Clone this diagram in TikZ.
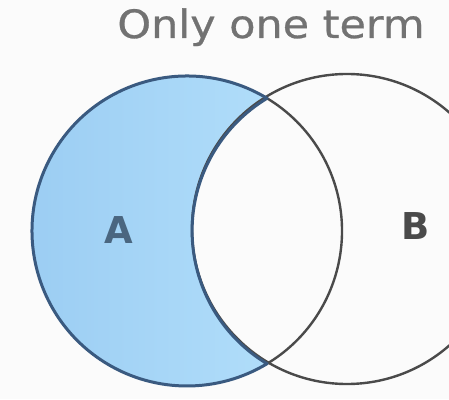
\documentclass[tikz,border=0pt]{standalone}
\usepackage{fontspec}
\setmainfont{DejaVu Sans}
\newfontfamily\titlefont{DejaVu Sans}[FakeBold=0.7]
\usetikzlibrary{calc}
\definecolor{bgc}{HTML}{FBFBFB}
\definecolor{titlec}{HTML}{727272}
\definecolor{edgeA}{HTML}{3A5A80}
\definecolor{edgeB}{HTML}{4A4A4A}
\definecolor{blueL}{HTML}{9ACCF2}
\definecolor{blueR}{HTML}{B0DDFA}
\definecolor{labA}{HTML}{4A6680}
\tikzset{
  titletext/.style={font=\titlefont\fontsize{39}{39}\selectfont, text=titlec, inner sep=0pt, xscale=1.1},
  setlabel/.style={font=\bfseries\fontsize{37}{37}\selectfont, inner sep=0pt},
  crescent/.style={draw=edgeA, line width=3pt, line join=round},
  circleline/.style={draw=edgeB, line width=2.4pt}
}
\begin{document}
\begin{tikzpicture}[x=1pt,y=1pt]
\fill[bgc] (0,0) rectangle (449,399);
\useasboundingbox (0,0) rectangle (449,399);
\coordinate (cA) at (187,168);
\coordinate (cB) at (347,170);
\coordinate (top) at ($(cA)+(58.9:155)$);
% shaded crescent A minus B
\shade[left color=blueL, right color=blueR]
  (top) arc[start angle=58.9, end angle=301.1, radius=155]
  arc[start angle=238.9, end angle=121.1, radius=155] -- cycle;
% circle B
\draw[circleline] (cB) circle[radius=155];
% right arc of A inside B
\draw[circleline] ($(cA)+(-58.9:155)$) arc[start angle=-58.9, end angle=58.9, radius=155];
% crescent outline
\draw[crescent]
  (top) arc[start angle=58.9, end angle=301.1, radius=155]
  arc[start angle=238.9, end angle=121.1, radius=155] -- cycle;
\node[titletext, anchor=base] (title) at (271,361) {Only one term};
\node[setlabel, text=labA] (lA) at (119,169) {A};
\node[setlabel, text=edgeB] (lB) at (416,173) {B};
\end{tikzpicture}
\end{document}
